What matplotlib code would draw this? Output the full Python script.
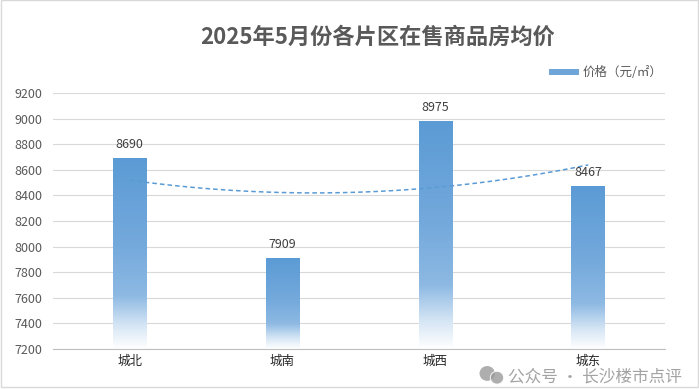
import numpy as np
import matplotlib
matplotlib.use("Agg")
import matplotlib.pyplot as plt
from matplotlib.colors import LinearSegmentedColormap
from matplotlib.patches import Rectangle, Ellipse

plt.rcParams['font.family'] = ['Noto Sans CJK SC', 'DejaVu Sans']

# Données
districts = ['城北', '城南', '城西', '城东']
prices = [8690, 7909, 8975, 8467]
y_ticks = list(range(7200, 9201, 200))
title = '2025年5月份各片区在售商品房均价'
legend_label = '价格（元/㎡）'
watermark = '公众号 · 长沙楼市点评'

fig = plt.figure(figsize=(6.99, 3.89), dpi=100)
ax = fig.add_axes([0.076, 0.103, 0.875, 0.658])

# Dégradé bleu -> blanc (haut -> bas)
cmap = LinearSegmentedColormap.from_list(
    'grad', [(0.0, '#5b9bd5'), (0.45, '#74a9dc'), (0.72, '#8db9e3'),
             (0.88, '#d6e6f5'), (1.0, '#ffffff')])
grad = np.linspace(0, 1, 256).reshape(-1, 1)

x = np.arange(len(districts))
width = 0.22
ymin = y_ticks[0]
for xi, v in zip(x, prices):
    ax.imshow(grad, cmap=cmap, aspect='auto', origin='upper',
              extent=(xi - width / 2, xi + width / 2, ymin, v), zorder=2)
    ax.text(xi, v + 60, str(v), ha='center', va='bottom', fontsize=9,
            color='#404040', zorder=4)

# Courbe de tendance polynomiale (ordre 2)
coef = np.polyfit(x, prices, 2)
xs = np.linspace(x[0], x[-1], 100)
ax.plot(xs, np.polyval(coef, xs), linestyle=(0, (3, 2)), color='#5b9bd5',
        linewidth=1.1, zorder=3)

ax.set_xlim(-0.5, len(districts) - 0.5)
ax.set_ylim(ymin, y_ticks[-1])
ax.set_yticks(y_ticks)
ax.set_xticks(x)
ax.set_xticklabels(districts, fontsize=9, color='#262626')
ax.tick_params(axis='y', labelsize=9, labelcolor='#595959', length=0, pad=8)
ax.tick_params(axis='x', length=0, pad=4)
ax.grid(axis='y', color='#d9d9d9', linewidth=0.8, zorder=0)
ax.set_axisbelow(True)
for s in ['top', 'right', 'left']:
    ax.spines[s].set_visible(False)
ax.spines['bottom'].set_color('#bfbfbf')

fig.text(0.54, 0.905, title, ha='center', va='center', fontsize=16,
         fontweight='bold', color='#595959')

# Légende
fig.patches.append(Rectangle((0.786, 0.806), 0.042, 0.016, transform=fig.transFigure,
                             facecolor='#6fa6da', edgecolor='none'))
fig.text(0.833, 0.814, legend_label, ha='left', va='center', fontsize=9,
         color='#595959')

# Filigrane (icône + texte)
fig.patches.append(Ellipse((0.697, 0.040), 0.022, 0.038, transform=fig.transFigure,
                           facecolor='#9a9a9a', edgecolor='none', alpha=0.8))
fig.patches.append(Ellipse((0.711, 0.029), 0.019, 0.033, transform=fig.transFigure,
                           facecolor='#9a9a9a', edgecolor='white', linewidth=0.8, alpha=0.8))
fig.text(0.727, 0.030, watermark, ha='left', va='center',
         fontsize=12, color='#8c8c8c', alpha=0.8)

# Cadre
fig.patches.append(Rectangle((0.001, 0.005), 0.997, 0.994, transform=fig.transFigure,
                             facecolor='none', edgecolor='#d9d9d9', linewidth=1))

fig.savefig('out.png', dpi=100)
